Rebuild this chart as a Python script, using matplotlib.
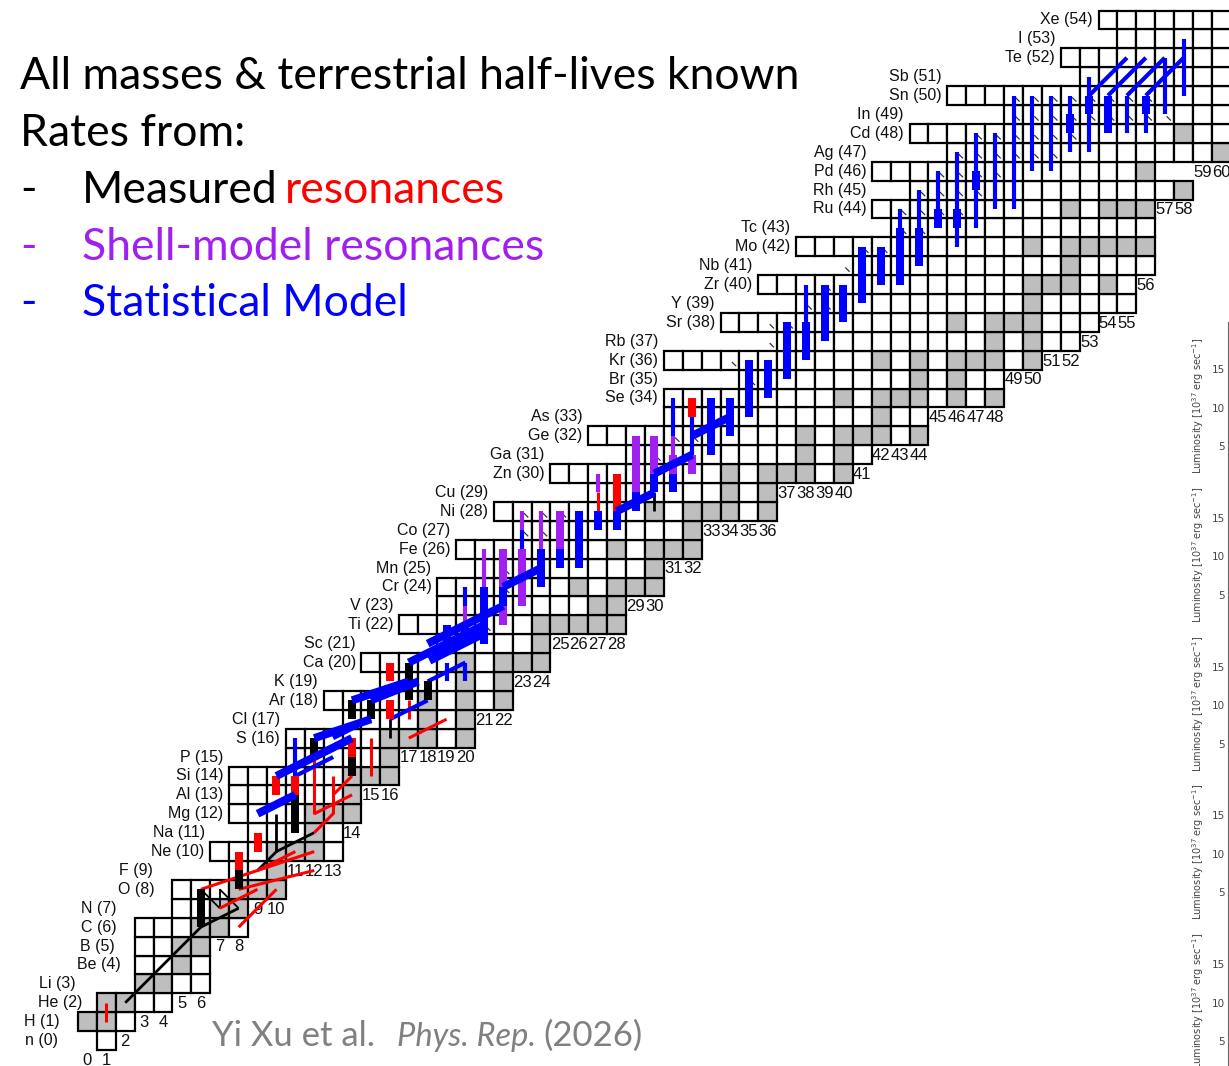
import matplotlib
matplotlib.use("Agg")
import matplotlib.pyplot as plt
from matplotlib.patches import Rectangle

# ---------------------------------------------------------------
# chart of nuclides: one row per element Z, cells from n_first to n_last
# ---------------------------------------------------------------
symbols = ['n', 'H', 'He', 'Li', 'Be', 'B', 'C', 'N', 'O', 'F',
           'Ne', 'Na', 'Mg', 'Al', 'Si', 'P', 'S', 'Cl', 'Ar', 'K',
           'Ca', 'Sc', 'Ti', 'V', 'Cr', 'Mn', 'Fe', 'Co', 'Ni', 'Cu',
           'Zn', 'Ga', 'Ge', 'As', 'Se', 'Br', 'Kr', 'Rb', 'Sr', 'Y',
           'Zr', 'Nb', 'Mo', 'Tc', 'Ru', 'Rh', 'Pd', 'Ag', 'Cd', 'In',
           'Sn', 'Sb', 'Te', 'I', 'Xe']
n_first = [1, 0, 1, 3, 3, 3, 3, 5, 5, 8,
           7, 9, 8, 8, 8, 11, 11, 14, 13, 16,
           15, 19, 17, 19, 19, 21, 20, 23, 22, 27,
           25, 29, 27, 31, 31, 35, 31, 37, 34, 38,
           36, 41, 38, 43, 42, 44, 42, 46, 44, 49,
           46, 53, 52, 55, 54]
n_last = [1, 2, 4, 6, 6, 6, 8, 8, 10, 10,
          13, 13, 14, 14, 16, 16, 20, 20, 22, 22,
          24, 24, 28, 28, 30, 30, 32, 32, 36, 36,
          40, 41, 44, 44, 48, 48, 50, 52, 53, 55,
          55, 56, 56, 56, 56, 58, 56, 61, 61, 61,
          61, 61, 61, 61, 61]
# stable nuclei (grey cells), N values per Z
stable = {
    1: [0, 1], 2: [1, 2], 3: [3, 4], 4: [5], 5: [5, 6], 6: [6, 7], 7: [7, 8],
    8: [8, 9, 10], 9: [10], 10: [10, 11, 12], 11: [12], 12: [12, 13, 14],
    13: [14], 14: [14, 15, 16], 15: [16], 16: [16, 17, 18, 20], 17: [18, 20],
    18: [18, 20, 22], 19: [20, 22], 20: [20, 22, 23, 24], 21: [24],
    22: [24, 25, 26, 27, 28], 23: [27, 28], 24: [26, 28, 29, 30], 25: [30],
    26: [28, 30, 31, 32], 27: [32], 28: [30, 32, 33, 34, 36], 29: [34, 36],
    30: [34, 36, 37, 38, 40], 31: [38, 40], 32: [38, 40, 41, 42, 44], 33: [42],
    34: [40, 42, 43, 44, 46, 48], 35: [44, 46], 36: [42, 44, 46, 47, 48, 50],
    37: [48, 50], 38: [46, 48, 49, 50], 39: [50], 40: [50, 51, 52, 54],
    41: [52], 42: [50, 52, 53, 54, 55, 56], 44: [52, 54, 55, 56], 45: [58],
    46: [56], 47: [60], 48: [58],
}
# label edge (in N units) for the lowest rows, placed by hand in the original
low_label_edge = [-1.05, -0.95, 0.25, -0.15, 2.25, 1.95, 2.05, 2.05, 4.05, 3.95]

# ---------------------------------------------------------------
# reaction flows (N1, Z1) -> (N2, Z2), by source of the rate
# ---------------------------------------------------------------
blue_thick = [(19, 20.6, 19, 22), (20, 21, 20, 22), (21, 21, 21, 24), (22, 23, 22, 24),
              (24, 24, 24, 26), (25, 25, 25, 26), (26, 25, 26, 28), (27, 27, 27, 28),
              (28, 27, 28, 28), (29, 28, 29, 29), (30, 29, 30, 30), (31, 29, 31, 30),
              (33, 31, 33, 34), (34, 32, 34, 34), (35, 33, 35, 36), (36, 34, 36, 36),
              (37, 35, 37, 38), (38, 36, 38, 38), (39, 37, 39, 40), (40, 38, 40, 40),
              (41, 39, 41, 42), (42, 40, 42, 42), (43, 40, 43, 43), (44, 41, 44, 43),
              (45, 43, 45, 44), (46, 43, 46, 44), (47, 45, 47, 46), (52, 48, 52, 49),
              (53, 49, 53, 50), (54, 48, 54, 50), (56, 49, 56, 50),
              (22, 24, 24, 25), (28, 28, 30, 29), (30, 30, 32, 31), (32, 32, 34, 33),
              (20, 22, 22, 23), (18, 21, 20, 22), (18.1, 20.1, 21.1, 21.6),
              (9, 12, 11, 13), (10, 14, 12, 15), (12, 15, 14, 16), (12, 16, 15, 17),
              (14, 18, 17, 19), (17, 20, 21, 22), (15, 18, 17.5, 19)]
blue_thin = [(32, 31, 32, 33), (31, 32, 31, 34), (23, 26, 23, 27), (20, 23, 20, 24),
             (38, 38, 38, 40), (43, 43, 43, 44), (44, 43, 44, 45), (45, 44, 45, 46),
             (46, 42, 46, 47), (47, 43, 47, 48), (48, 44, 48, 48), (49, 44, 49, 50),
             (50, 46, 50, 50), (51, 46, 51, 50), (52, 47, 52, 50), (53, 47, 53, 51),
             (54, 48, 54, 50), (55, 48, 55, 50), (56, 48, 56, 50), (57, 49, 57, 52),
             (58, 50, 58, 53), (53, 50, 55, 52), (54, 50, 56, 52), (55, 50, 57, 52),
             (56, 50, 58, 52), (11, 14, 11, 16), (19, 19, 19, 20), (20, 19, 20, 20),
             (11, 14, 13, 15), (13, 16, 15, 17), (18, 19, 20, 20), (16, 17, 18, 18)]
purple_thick = [(32, 30, 32, 31), (31, 30, 31, 31), (30, 30, 30, 32), (29, 29, 29, 32),
                (25, 26, 25, 28), (23, 23, 23, 26), (22, 24, 22, 26), (22, 22, 22, 23)]
purple_thin = [(31, 31, 31, 32), (27, 29, 27, 30), (24, 26, 24, 28), (23, 27, 23, 28),
               (21, 24, 21, 26), (20, 22, 20, 23)]
red_thick = [(28, 28, 28, 30), (32, 33, 32, 34), (16, 19, 16, 20), (16, 17, 16, 18),
             (14, 15, 14, 16), (10, 13, 10, 14), (11, 13, 11, 14), (9, 10, 9, 11),
             (8, 9, 8, 10)]
red_thin = [(1, 1, 1, 2), (27, 28, 27, 29), (17, 17, 17, 18), (15, 14, 15, 16),
            (12, 12, 12, 15), (13, 12, 13, 14), (17, 16, 19, 17), (12, 12, 14, 13),
            (8, 6, 10, 8), (7, 7, 9, 8), (6, 8, 12, 10), (8, 8, 12, 9), (9, 9, 11, 10),
            (12, 11, 13, 12), (13, 13, 14, 14)]
black_thick = [(6, 6, 6, 8), (14, 17, 14, 18), (15, 17, 15, 18), (12, 15, 12, 16),
               (14, 14, 14, 15), (17, 18, 17, 20), (18, 18, 18, 19), (11, 11, 11, 13),
               (8, 8, 8, 9)]
black_thin = [(2, 2, 6, 6), (6, 6, 8, 7), (30, 28, 30, 29), (16, 16, 16, 17),
              (10, 10, 10, 12), (9, 9, 10, 10), (10, 10, 12, 11)]
# hot CNO cycle, drawn finer
cno_lines = [(6, 8, 7, 7), (7, 7, 7, 8), (7, 8, 8, 7)]
# short visible pieces of beta+ decays
beta_marks = [(49, 50), (50, 50), (51, 50), (52, 50), (53, 50), (54, 50), (55, 50), (56, 50),
              (49, 49), (50, 49), (51, 49), (52, 49), (53, 49), (54, 49), (55, 49), (56, 49),
              (57, 49), (47, 48), (48, 48), (49, 48), (50, 48), (51, 48), (52, 48),
              (46, 47), (47, 47), (48, 47), (49, 47), (50, 47), (51, 47),
              (45, 46), (46, 46), (47, 46), (48, 46), (44, 45), (45, 45), (46, 45),
              (47, 45), (43, 44), (44, 44), (45, 44), (46, 44), (43, 43), (44, 43),
              (41, 42), (42, 42), (40, 41), (39, 40), (38, 39), (39, 39), (36, 38),
              (37, 38), (36, 37), (34, 36), (35, 35), (31, 32), (32, 32), (30, 31),
              (23, 28), (24, 28), (25, 28), (23, 27), (24, 27), (22, 25), (23, 25),
              (22, 24), (21, 22)]

RED, BLUE, PURPLE, GREY = '#ff0000', '#0000ff', '#a020f0', '#bebebe'

# pixel geometry of the slide: cell size 18.9 px, N=0 at x=78, Z=0 bottom at y=1050
W, H = 1229, 1066
cell = 18.9
fig = plt.figure(figsize=(W / 100, H / 100), dpi=100)
ax = fig.add_axes([0, 0, 1, 1])
ax.set_xlim(-78 / cell, (W - 78) / cell)
ax.set_ylim((1050 - H) / cell, 1050 / cell)
ax.axis('off')

# cells
for z in range(len(symbols)):
    for n in range(n_first[z], n_last[z] + 1):
        fc = GREY if n in stable.get(z, []) else 'white'
        ax.add_patch(Rectangle((n, z), 1, 1, fc=fc, ec='black', lw=1.6, zorder=1))

# element labels
for z, sym in enumerate(symbols):
    if z < len(low_label_edge):
        xl = low_label_edge[z]
    else:
        xl = n_first[z - z % 2] - 0.3
    ax.text(xl, z + 0.5, f'{sym} ({z})', ha='right', va='center',
            fontsize=11.5, family='Liberation Sans', color='#111111')

# neutron numbers below the lowest cell of every column
for n in range(0, 61):
    rows = [z for z in range(len(symbols)) if n_first[z] <= n <= n_last[z]]
    zl = min(rows) - 1 if n > 0 else -1
    ax.text(n + 0.5, zl + 0.45, str(n), ha='center', va='center',
            fontsize=12, family='Liberation Sans', color='#111111')

# reaction flows
def draw(segs, color, lw, zo):
    for n1, z1, n2, z2 in segs:
        ax.plot([n1 + 0.5, n2 + 0.5], [z1 + 0.5, z2 + 0.5], color=color, lw=lw,
                solid_capstyle='butt', zorder=zo)

draw(cno_lines, 'black', 1.3, 3)
draw(black_thin, 'black', 2.0, 3)
draw(red_thin, RED, 2.2, 3)
draw(purple_thin, PURPLE, 3.0, 3)
draw(blue_thin, BLUE, 3.0, 3)
draw(black_thick, 'black', 5.8, 4)
draw(red_thick, RED, 5.8, 4)
draw(purple_thick, PURPLE, 5.8, 4)
draw(blue_thick, BLUE, 5.8, 4)
for n, z in beta_marks:
    ax.plot([n + 0.62, n + 0.8], [z + 0.38, z + 0.2], color='#333333', lw=0.9, zorder=2)

# partial luminosity panels at the right edge
fig.add_artist(plt.Line2D([1227.5 / W, 1227.5 / W], [0, 1 - 322 / H],
                          transform=fig.transFigure, color='#666666', lw=0.8))
for k in range(5):
    y15 = 370 + 148.8 * k
    for lab, dy in [('15', 0), ('10', 38.5), ('5', 77)]:
        fig.text(1225 / W, 1 - (y15 + dy) / H, lab, ha='right', va='center',
                 fontsize=7.5, color='#444444')
    fig.text(1198 / W, 1 - (y15 + 36) / H, r'Luminosity [10$^{37}$ erg sec$^{-1}$]',
             rotation=90, ha='center', va='center', fontsize=7, color='#444444')

# slide text
sf = dict(family='Lato', fontsize=32, va='baseline')
fig.text(20 / W, 1 - 89 / H, 'All masses & terrestrial half-lives known', color='black', **sf)
fig.text(20 / W, 1 - 146 / H, 'Rates from:', color='black', **sf)
fig.text(20 / W, 1 - 203 / H, '-', color='black', **sf)
fig.text(82 / W, 1 - 203 / H, 'Measured', color='black', **sf)
fig.text(285 / W, 1 - 203 / H, 'resonances', color=RED, **sf)
fig.text(20 / W, 1 - 260 / H, '-', color=PURPLE, **sf)
fig.text(82 / W, 1 - 260 / H, 'Shell-model resonances', color=PURPLE, **sf)
fig.text(20 / W, 1 - 316 / H, '-', color=BLUE, **sf)
fig.text(82 / W, 1 - 316 / H, 'Statistical Model', color=BLUE, **sf)

cf = dict(family='Lato', va='baseline', color='#808080')
fig.text(212 / W, 1 - 1046 / H, 'Yi Xu et al.', fontsize=25, **cf)
fig.text(397 / W, 1 - 1046 / H, 'Phys. Rep.', style='italic', fontsize=23.5, **cf)
fig.text(543 / W, 1 - 1046 / H, '(2026)', fontsize=25, **cf)

fig.savefig('out.png', dpi=100)
